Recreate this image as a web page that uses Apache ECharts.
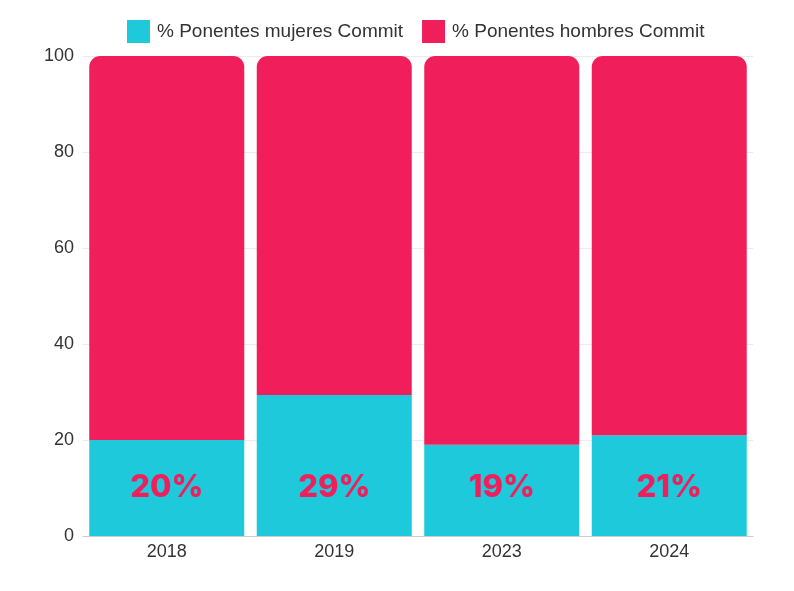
<!DOCTYPE html>
<html><head><meta charset="utf-8">
<script src="https://cdn.jsdelivr.net/npm/echarts@6/dist/echarts.min.js"></script>
<style>html,body{margin:0;padding:0;background:#fff}#c{width:794px;height:591px}</style>
</head><body><div id="c"></div>
<script>
const categories = ['2018', '2019', '2023', '2024'];
const mujeres = [20, 29.4, 19, 21];
const hombres = [80, 70.6, 81, 79];
const yTicks = [0, 20, 40, 60, 80, 100];

const chart = echarts.init(document.getElementById('c'), null, {renderer: 'canvas'});
chart.setOption({
  animation: false,
  textStyle: {fontFamily: 'Liberation Sans, Arial, sans-serif'},
  legend: {
    top: 15, left: 122,
    itemWidth: 23, itemHeight: 23, itemGap: 19,
    icon: 'rect',
    textStyle: {fontSize: 19, color: '#333', padding: [0, 0, 0, 2]},
    data: ['% Ponentes mujeres Commit', '% Ponentes hombres Commit']
  },
  grid: {left: 83, right: 41, top: 56, bottom: 55},
  xAxis: {
    type: 'category', data: categories,
    axisLine: {lineStyle: {color: '#cccccc'}},
    axisTick: {show: false},
    axisLabel: {color: '#333', fontSize: 18, margin: 7}
  },
  yAxis: {
    type: 'value', min: 0, max: 100, interval: 20,
    axisLabel: {color: '#333', fontSize: 18, margin: 9,
      formatter: v => yTicks.includes(v) ? String(v) : ''},
    splitLine: {lineStyle: {color: '#ebebeb'}},
    axisLine: {show: false}, axisTick: {show: false}
  },
  series: [
    {
      name: '% Ponentes mujeres Commit', type: 'bar', stack: 'a',
      data: mujeres, barWidth: 155,
      itemStyle: {color: '#1dc9db'},
      label: {
        show: true, position: 'insideBottom', distance: 33,
        formatter: p => Math.round(p.value) + '%',
        color: '#f01f5b', fontSize: 31, fontWeight: 800,
        fontFamily: 'Inter, Lato, sans-serif'
      }
    },
    {
      name: '% Ponentes hombres Commit', type: 'bar', stack: 'a',
      data: hombres, barWidth: 155,
      itemStyle: {color: '#f01f5b', borderRadius: [11, 11, 0, 0]}
    }
  ]
});
</script></body></html>
